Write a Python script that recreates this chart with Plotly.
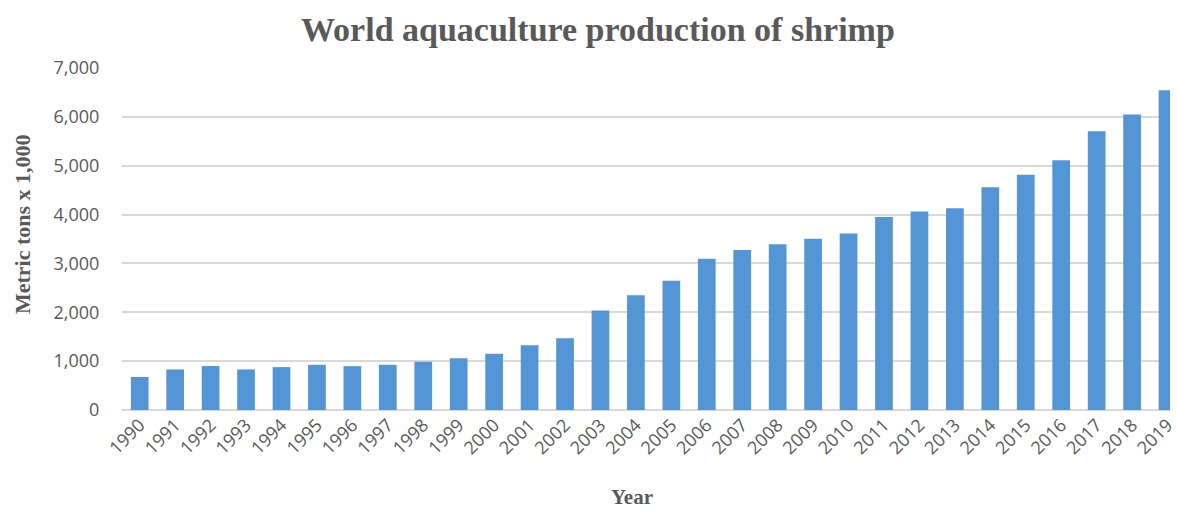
import plotly.graph_objects as go

years = [str(y) for y in range(1990, 2020)]
production = [675, 830, 900, 830, 878, 925, 898, 925, 987, 1060, 1150, 1325, 1470,
              2035, 2350, 2645, 3095, 3275, 3390, 3505, 3615, 3950, 4065, 4130,
              4560, 4815, 5110, 5705, 6050, 6545]
y_ticks = [0, 1000, 2000, 3000, 4000, 5000, 6000, 7000]

fig = go.Figure(go.Bar(
    x=years, y=production,
    marker=dict(color="#5496d5", line=dict(width=0)),
))

serif = "Liberation Serif"
grey = "#595959"

fig.update_layout(
    width=1177, height=511,
    margin=dict(l=122, r=0, t=68, b=101),
    plot_bgcolor="white", paper_bgcolor="white",
    bargap=0.5,
    showlegend=False,
    title=dict(text="<b>World aquaculture production of shrimp</b>",
               x=0.508, xanchor="center", y=0.943, yanchor="middle",
               font=dict(family=serif, size=34, color=grey)),
    xaxis=dict(
        type="category", range=[-0.5, 29.07],
        tickangle=-45, tickfont=dict(family="Open Sans", size=18, color=grey),
        showgrid=False, showline=False, ticks="",
    ),
    yaxis=dict(
        range=[0, 7000], tickvals=y_ticks, tickformat=",d",
        tickfont=dict(family="Open Sans", size=18, color=grey),
        showgrid=True, gridcolor="#d9d9d9", gridwidth=1.5,
        zeroline=True, zerolinecolor="#d9d9d9", zerolinewidth=1.5,
        ticks="outside", ticklen=18, tickcolor="white",
    ),
    annotations=[
        dict(text="<b>Metric tons x 1,000</b>", xref="paper", yref="paper",
             x=-0.095, y=0.545, xanchor="center", yanchor="middle",
             textangle=-90, showarrow=False,
             font=dict(family=serif, size=22, color=grey)),
        dict(text="<b>Year</b>", xref="paper", yref="paper",
             x=0.487, y=-0.255, xanchor="center", yanchor="middle",
             showarrow=False,
             font=dict(family=serif, size=21, color=grey)),
    ],
)

fig.write_html("out.html")
